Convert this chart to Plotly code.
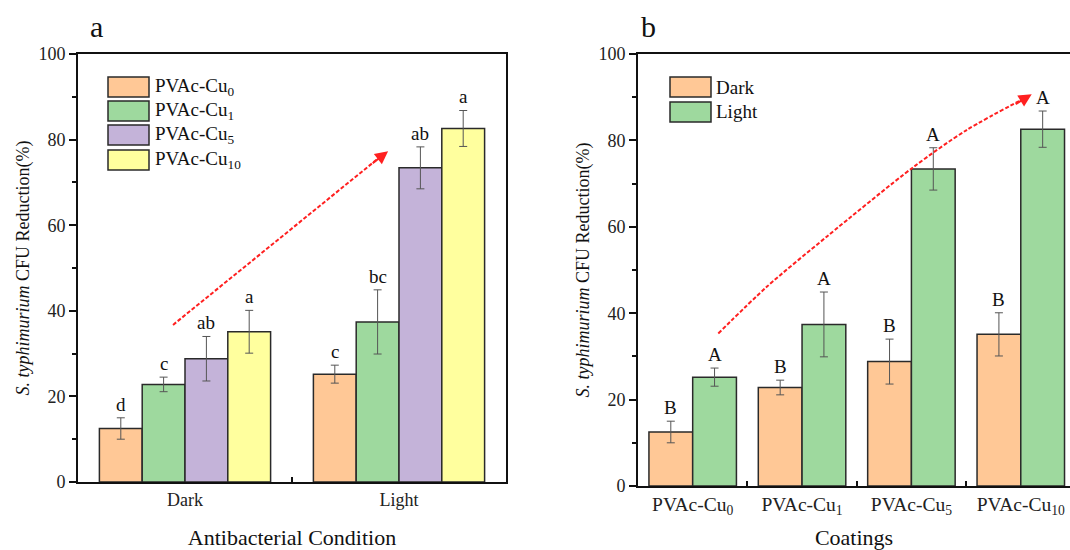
import plotly.graph_objects as go

# Antibacterial data: S. typhimurium CFU reduction (%) for each coating
conditions = ["Dark", "Light"]
coatings = ["PVAc-Cu<sub>0</sub>", "PVAc-Cu<sub>1</sub>", "PVAc-Cu<sub>5</sub>", "PVAc-Cu<sub>10</sub>"]
dark_mean = [12.5, 22.8, 28.8, 35.1]
dark_err = [2.5, 1.7, 5.2, 5.0]
light_mean = [25.2, 37.4, 73.4, 82.6]
light_err = [2.1, 7.5, 4.9, 4.2]
letters_dark_a = ["d", "c", "ab", "a"]
letters_light_a = ["c", "bc", "ab", "a"]
letters_dark_b = ["B", "B", "B", "B"]
letters_light_b = ["A", "A", "A", "A"]

colors = ["#FFC896", "#9ED99E", "#C4B3D9", "#FFFF9E"]
edge = "#2a2a2a"
err_color = "#555555"
red = "#FF2020"
serif = "Liberation Serif, Times New Roman, serif"

pos_a = list(range(len(conditions)))
pos_b = list(range(len(coatings)))

fig = go.Figure()

# Panel a: grouped by condition, one trace per coating
for i, name in enumerate(coatings):
    fig.add_trace(go.Bar(
        x=pos_a, y=[dark_mean[i], light_mean[i]],
        error_y=dict(type="data", array=[dark_err[i], light_err[i]],
                     color=err_color, thickness=1, width=4),
        marker=dict(color=colors[i], line=dict(color=edge, width=1.5)),
        name=name, offsetgroup=f"a{i}", xaxis="x", yaxis="y", showlegend=False,
    ))

# Panel b: grouped by coating, one trace per condition
for k, (label, vals, errs) in enumerate([("Dark", dark_mean, dark_err),
                                         ("Light", light_mean, light_err)]):
    fig.add_trace(go.Bar(
        x=pos_b, y=vals,
        error_y=dict(type="data", array=errs, color=err_color, thickness=1, width=4),
        marker=dict(color=colors[k], line=dict(color=edge, width=1.5)),
        name=label, offsetgroup=f"b{k}", xaxis="x2", yaxis="y2", showlegend=False,
    ))

annotations = []
letter_font = dict(family=serif, size=19, color="#111")

# significance letters, panel a (4 bars per group, group width 0.8)
bw_a = 0.8 / 4
for gi, (means, errs, lets) in enumerate([(dark_mean, dark_err, letters_dark_a),
                                          (light_mean, light_err, letters_light_a)]):
    for i in range(4):
        annotations.append(dict(
            x=gi - 0.4 + bw_a * (i + 0.5), y=means[i] + errs[i], xref="x", yref="y",
            text=lets[i], showarrow=False, yanchor="bottom", yshift=1, font=letter_font,
        ))

# significance letters, panel b (2 bars per group)
bw_b = 0.8 / 2
for k, (means, errs, lets) in enumerate([(dark_mean, dark_err, letters_dark_b),
                                         (light_mean, light_err, letters_light_b)]):
    for i in range(4):
        annotations.append(dict(
            x=i - 0.4 + bw_b * (k + 0.5), y=means[i] + errs[i], xref="x2", yref="y2",
            text=lets[i], showarrow=False, yanchor="bottom", yshift=1, font=letter_font,
        ))

# trend arrows (dashed red)
trend_a_x = [-0.056, 0.93]
trend_a_y = [36.7, 76.7]
fig.add_trace(go.Scatter(x=trend_a_x, y=trend_a_y, mode="lines", xaxis="x", yaxis="y",
                         line=dict(color=red, width=2, dash="4px,2px"),
                         hoverinfo="skip", showlegend=False))
annotations.append(dict(x=0.949, y=77.3, ax=0.87, ay=74.2, xref="x", yref="y",
                        axref="x", ayref="y", showarrow=True, arrowhead=2,
                        arrowsize=1.3, arrowwidth=2, arrowcolor=red,
                        text="", standoff=0))

trend_b_x = [0.234, 0.677, 1.225, 2.017, 2.505, 3.06]
trend_b_y = [35.3, 46.1, 57.7, 73.8, 82.4, 90.1]
fig.add_trace(go.Scatter(x=trend_b_x, y=trend_b_y, mode="lines", xaxis="x2", yaxis="y2",
                         line=dict(color=red, width=2, dash="4px,2px", shape="spline",
                                   smoothing=0.8),
                         hoverinfo="skip", showlegend=False))
annotations.append(dict(x=3.10, y=90.7, ax=2.94, ay=88.2, xref="x2", yref="y2",
                        axref="x2", ayref="y2", showarrow=True, arrowhead=2,
                        arrowsize=1.3, arrowwidth=2, arrowcolor=red,
                        text="", standoff=0))

# panel letters
annotations.append(dict(x=88 / 1070, y=1 - 27 / 550, xref="paper", yref="paper",
                        text="a", showarrow=False, yanchor="middle",
                        font=dict(family=serif, size=30, color="#111")))
annotations.append(dict(x=648 / 1070, y=1 - 27 / 550, xref="paper", yref="paper",
                        text="b", showarrow=False, yanchor="middle",
                        font=dict(family=serif, size=30, color="#111")))

# legends drawn as swatch + label
shapes = []
def legend(items, x0_px, y_px, text_px, swatch_colors):
    for j, (lab, col) in enumerate(zip(items, swatch_colors)):
        yc = y_px[j]
        shapes.append(dict(type="rect", xref="paper", yref="paper",
                           x0=x0_px / 1070, x1=(x0_px + 41) / 1070,
                           y0=1 - (yc + 10) / 550, y1=1 - (yc - 10) / 550,
                           fillcolor=col, line=dict(color=edge, width=1.5)))
        annotations.append(dict(x=text_px / 1070, y=1 - yc / 550, xref="paper", yref="paper",
                                text=lab, showarrow=False, xanchor="left", yanchor="middle",
                                font=dict(family=serif, size=19, color="#111")))

legend(coatings, 108, [87, 111, 135, 160], 153, colors)
legend(["Dark", "Light"], 670, [87, 112], 714, colors[:2])

line_style = dict(showline=True, linecolor="#111", linewidth=2, automargin=False,
                  showgrid=False, zeroline=False)
ytitle = "<i>S. typhimurium</i> CFU Reduction(%)"
yaxis_common = dict(range=[0, 100], tickvals=[0, 20, 40, 60, 80, 100],
                    ticks="outside", ticklen=7, tickwidth=1.5, tickcolor="#111",
                    tickfont=dict(family=serif, size=18, color="#222"),
                    minor=dict(tickvals=[10, 30, 50, 70, 90], ticks="outside",
                               ticklen=4, tickwidth=1.5, tickcolor="#111"),
                    title=dict(text=ytitle, standoff=4,
                               font=dict(family=serif, size=18, color="#111")))

fig.update_layout(
    width=1070, height=550, margin=dict(l=0, r=0, t=0, b=0, autoexpand=False),
    paper_bgcolor="white", plot_bgcolor="white",
    barmode="group", bargap=0.2, bargroupgap=0,
    xaxis=dict(**line_style, mirror=True, domain=[78 / 1070, 506 / 1070],
               range=[-0.5, 1.5], tickvals=pos_a, ticktext=conditions, ticks="",
               tickfont=dict(family=serif, size=18, color="#222"),
               minor=dict(tickvals=[0.5], ticks="inside", ticklen=5, tickwidth=1.5,
                          tickcolor="#111"),
               title=dict(text="Antibacterial Condition", standoff=21,
                          font=dict(family=serif, size=22, color="#111"))),
    yaxis=dict(**line_style, mirror=True, **yaxis_common,
               domain=[68 / 550, 496 / 550], anchor="x"),
    xaxis2=dict(**line_style, mirror=True, domain=[638 / 1070, 1.0],
                range=[-0.5, 3.45], tickvals=pos_b, ticktext=coatings, ticks="",
                tickfont=dict(family=serif, size=19.5, color="#222"),
                minor=dict(tickvals=[0.5, 1.5, 2.5], ticks="inside", ticklen=5,
                           tickwidth=1.5, tickcolor="#111"),
                anchor="y2",
                title=dict(text="Coatings", standoff=15,
                           font=dict(family=serif, size=22, color="#111"))),
    yaxis2=dict(**line_style, mirror=False, **yaxis_common,
                domain=[64 / 550, 496 / 550], anchor="x2"),
    annotations=annotations, shapes=shapes,
)

fig.write_html("out.html")
